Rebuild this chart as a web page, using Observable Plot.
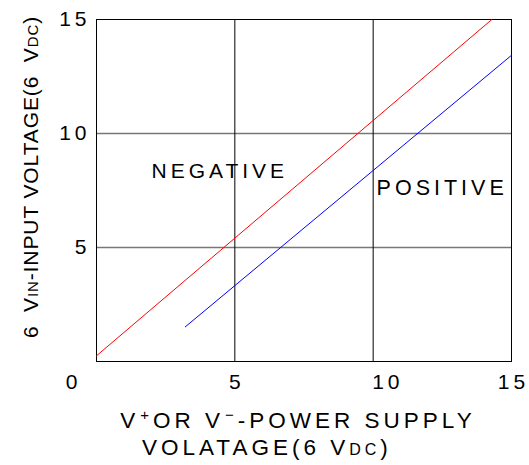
<!DOCTYPE html>
<html>
<head>
<meta charset="utf-8">
<script src="https://cdn.jsdelivr.net/npm/d3@7"></script>
<script src="https://cdn.jsdelivr.net/npm/@observablehq/plot@0.6"></script>
<style>
  html, body { margin: 0; padding: 0; background: #fff; }
  svg text { letter-spacing: 4px; }
  svg text.ylab { letter-spacing: 0.9px; }
  svg text.xlab { letter-spacing: 4px; }
</style>
</head>
<body>
<div id="chart"></div>
<script>
// Data
const negativeX = [0, 14.29];
const negativeY = [0.25, 15];
const positiveX = [3.21, 15];
const positiveY = [1.52, 13.43];
const gridValues = [5, 10];
const yTickLabels = [5, 10, 15];
const xTickLabelsCentered = [5, 15];
const xTickLabelsStart = [10];

const negData = negativeX.map((x, i) => ({x, y: negativeY[i]}));
const posData = positiveX.map((x, i) => ({x, y: positiveY[i]}));

const svg = Plot.plot({
  width: 529,
  height: 465,
  marginLeft: 96,
  marginRight: 18,
  marginTop: 19,
  marginBottom: 104,
  x: {domain: [0, 15], axis: null},
  y: {domain: [0, 15], axis: null},
  style: {fontFamily: "'Liberation Sans', Arial, sans-serif", fontSize: "21px", background: "#fff", color: "#000"},
  marks: [
    Plot.ruleY(gridValues, {stroke: "#777", strokeWidth: 1.6}),
    Plot.ruleX(gridValues, {stroke: "#000", strokeWidth: 1}),
    Plot.frame({stroke: "#000", strokeWidth: 1}),
    Plot.line(negData, {x: "x", y: "y", stroke: "#ff0000", strokeWidth: 1}),
    Plot.line(posData, {x: "x", y: "y", stroke: "#0000ff", strokeWidth: 1}),
    Plot.text(yTickLabels, {x: 0, y: d => d, text: d => String(d), dx: -6, textAnchor: "end", fill: "#000"}),
    Plot.text(xTickLabelsCentered, {x: d => d, y: 0, text: d => String(d), dy: 21, dx: 2, textAnchor: "middle", fill: "#000"}),
    Plot.text(xTickLabelsStart, {x: d => d, y: 0, text: d => String(d), dy: 21, dx: -1, textAnchor: "start", fill: "#000"}),
    Plot.text(["0"], {x: 0, y: 0, text: d => d, dy: 21, dx: -23, textAnchor: "middle", fill: "#000"}),
    Plot.text(["NEGATIVE"], {x: 4.42, y: 8.33, text: d => d, dx: 1, textAnchor: "middle", fill: "#000"}),
    Plot.text(["POSITIVE"], {x: 12.53, y: 7.59, text: d => d, dx: -1, textAnchor: "middle", fill: "#000", fontSize: 21.5})
  ]
});

const s = d3.select(svg);
// Y axis label (rotated)
const yl = s.append("text")
  .attr("class", "ylab")
  .attr("transform", "translate(38,177) rotate(-90)")
  .attr("text-anchor", "middle")
  .attr("fill", "#000")
  .style("font-size", "21px");
yl.append("tspan").text("6  V");
yl.append("tspan").style("font-size", "15px").text("IN");
yl.append("tspan").text("-INPUT VOLTAGE(6  V");
yl.append("tspan").style("font-size", "15px").text("DC");
yl.append("tspan").text(")");

// X axis label line 1
const xl1 = s.append("text")
  .attr("class", "xlab")
  .attr("x", 298).attr("y", 428)
  .attr("text-anchor", "middle")
  .attr("fill", "#000")
  .style("font-size", "22.5px");
xl1.append("tspan").text("V");
xl1.append("tspan").style("font-size", "15px").attr("dy", -8).attr("dx", 1).text("+");
xl1.append("tspan").attr("dy", 8).text("OR V");
xl1.append("tspan").style("font-size", "15px").attr("dy", -8).attr("dx", 1).text("\u2212");
xl1.append("tspan").attr("dy", 8).text("-POWER SUPPLY");

// X axis label line 2
const xl2 = s.append("text")
  .attr("class", "xlab")
  .attr("x", 142).attr("y", 455)
  .attr("text-anchor", "start")
  .attr("fill", "#000")
  .style("font-size", "22.5px");
xl2.append("tspan").text("VOLATAGE(6 V");
xl2.append("tspan").style("font-size", "16px").text("DC");
xl2.append("tspan").text(")");

document.getElementById("chart").appendChild(svg);
</script>
</body>
</html>
